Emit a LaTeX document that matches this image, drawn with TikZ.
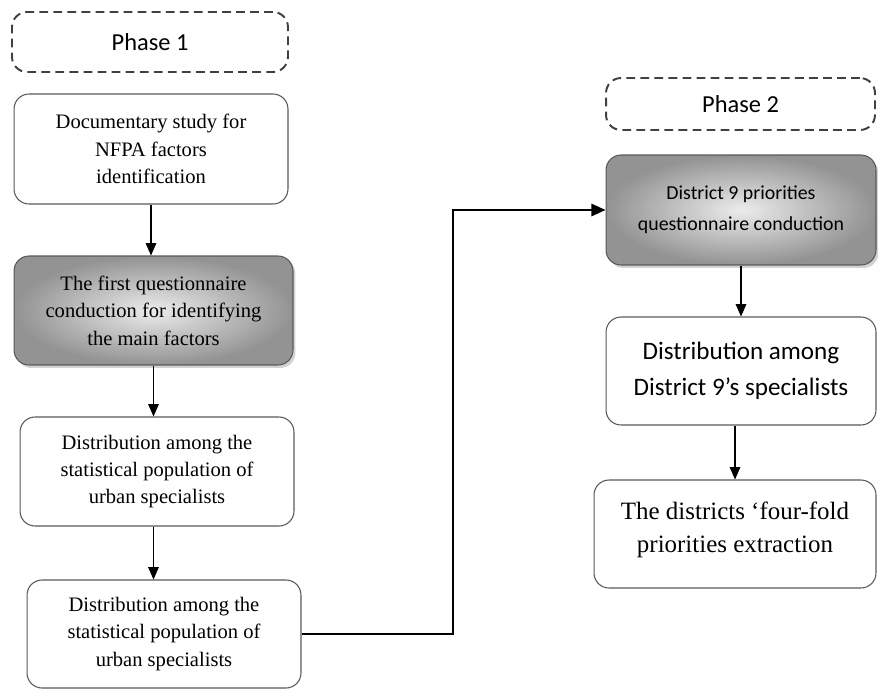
\documentclass[tikz,border=0pt]{standalone}
\usepackage{fontspec}
\setmainfont{Liberation Serif}
\newfontfamily\calibri{Carlito}
\usetikzlibrary{arrows.meta, shadows}

\begin{document}
\begin{tikzpicture}[x = 0.02cm, y = -0.02cm,
		box/.style = {draw = black!65, line width = 0.6pt, rounded corners = 0.3cm, align = center, inner sep = 0pt},
		leftbox/.style = {box, minimum width = 5.48cm, minimum height = 2.18cm, font = \fontsize{11.7}{15.6}\selectfont},
		greybox/.style = {shading = radial, inner color = gray!15, outer color = gray!85,
			drop shadow = {opacity = 0.35, shadow xshift = 0.05cm, shadow yshift = -0.06cm}},
		phasebox/.style = {box, line width = 1.1pt, dash pattern = on 5pt off 3pt, draw = black!75, font = \calibri\fontsize{13.9}{17}\selectfont},
		flow/.style = {-{Triangle[width = 6pt, length = 7pt]}, semithick}]
		\useasboundingbox (0, 0) rectangle (878, 690);
		%%%%%%%%%%%%%
		\node [phasebox, minimum width = 5.52cm, minimum height = 1.2cm] (p1) at (150, 42) {Phase 1};
		\node [leftbox, minimum height = 2.2cm] (doc) at (151, 149) {Documentary study for\\ NFPA factors\\ identification};
		\node [leftbox, greybox, minimum width = 5.58cm] (first) at (153.5, 310.5) {The first questionnaire\\ conduction for identifying\\ the main factors};
		\node [leftbox] (distA) at (157, 471.5) {Distribution among the\\ statistical population of\\ urban specialists};
		\node [leftbox, minimum height = 2.16cm] (distB) at (164, 634) {Distribution among the\\ statistical population of\\ urban specialists};
		%%%%%%%%%%%%%
		\node [phasebox, minimum width = 5.38cm, minimum height = 1.04cm] (p2) at (740.5, 104) {Phase 2};
		\node [box, greybox, minimum width = 5.4cm, minimum height = 2.2cm, font = \calibri\fontsize{11.3}{17.4}\selectfont] (dist9q) at (741, 210) {District 9 priorities\\ questionnaire conduction};
		\node [box, minimum width = 5.4cm, minimum height = 2.16cm, font = \calibri\fontsize{14.3}{20.4}\selectfont] (dist9s) at (741, 371) {Distribution among\\ District 9’s specialists};
		\node [box, minimum width = 5.64cm, minimum height = 2.16cm, font = \fontsize{14.2}{19}\selectfont] (four) at (735, 534) {The districts ‘four-fold\\ priorities extraction\\[-11pt]};
		\coordinate (turn) at (453, 400);
		%%%%%%%%%%%%%
		\draw [flow] (doc.south) to (doc.south |- first.north);
		\draw [flow] (first.south) to (first.south |- distA.north);
		\draw [flow] (distA.south -| first.south) to (first.south |- distB.north);
		\draw [flow, very thick, -{Triangle[width = 7pt, length = 8pt]}] (distB.east) -- (distB.east -| turn) -- (dist9q.west -| turn) -- (dist9q.west);
		\draw [flow] (dist9q.south) to (dist9q.south |- dist9s.north);
		\draw [flow] (dist9s.south -| four.north) to (four.north);
\end{tikzpicture}
\end{document}
